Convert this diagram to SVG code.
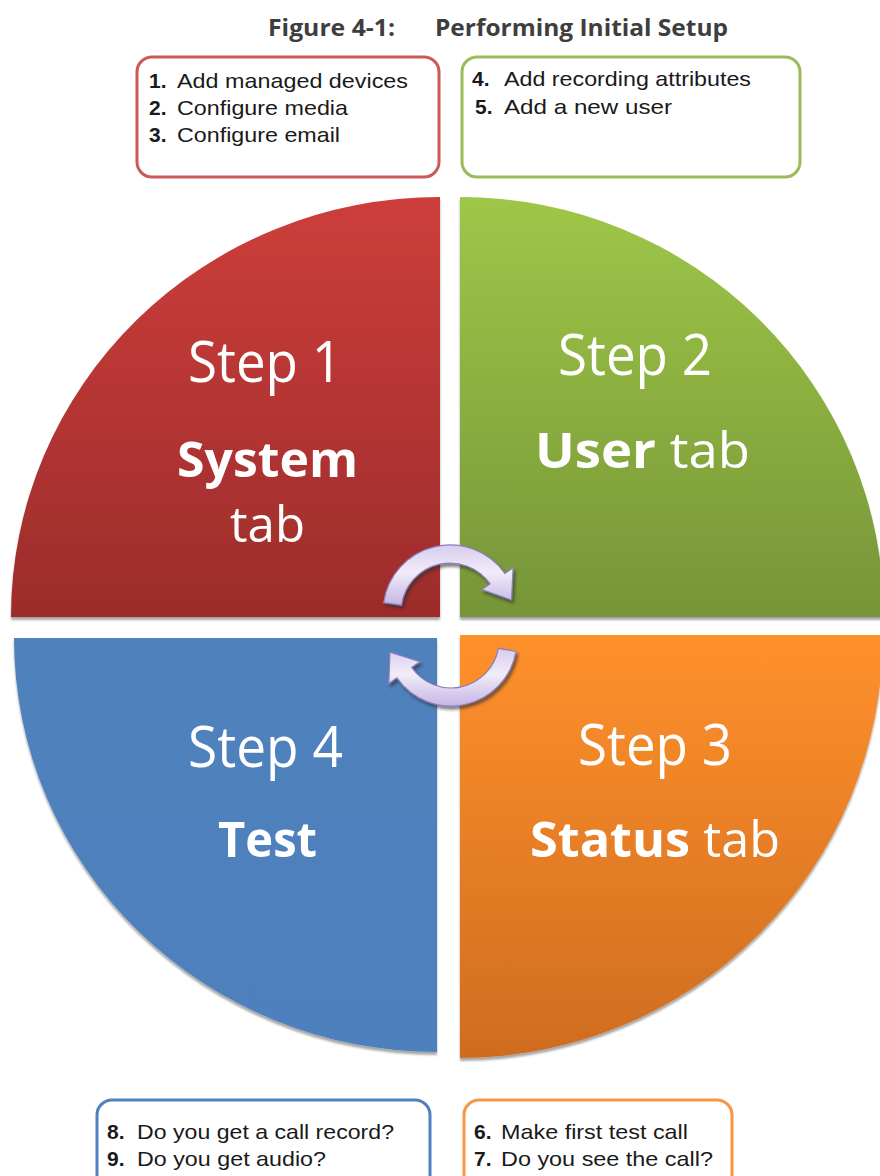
<svg xmlns="http://www.w3.org/2000/svg" width="880" height="1176" viewBox="0 0 880 1176">
<defs>
<linearGradient id="gRed" x1="0" y1="0" x2="0" y2="1"><stop offset="0" stop-color="#CD3E3B"/><stop offset="1" stop-color="#9C2C2B"/></linearGradient>
<linearGradient id="gGreen" x1="0" y1="0" x2="0" y2="1"><stop offset="0" stop-color="#9EC748"/><stop offset="1" stop-color="#769538"/></linearGradient>
<linearGradient id="gBlue" x1="0" y1="0" x2="0" y2="1"><stop offset="0" stop-color="#4F81BD"/><stop offset="1" stop-color="#4E80BD"/></linearGradient>
<linearGradient id="gOrange" x1="0" y1="0" x2="0" y2="1"><stop offset="0" stop-color="#FF912C"/><stop offset="1" stop-color="#CF6C1F"/></linearGradient>
<linearGradient id="gArrow" x1="0" y1="0" x2="0" y2="1"><stop offset="0" stop-color="#D8CCEE"/><stop offset="0.45" stop-color="#F1ECF9"/><stop offset="1" stop-color="#C6B5E4"/></linearGradient>
<filter id="shadow" x="-5%" y="-5%" width="110%" height="110%"><feDropShadow dx="0" dy="3" stdDeviation="1" flood-color="#000" flood-opacity="0.35"/></filter>
<filter id="ashadow" x="-20%" y="-20%" width="140%" height="140%"><feDropShadow dx="2" dy="3" stdDeviation="1.5" flood-color="#2a2a2a" flood-opacity="0.6"/></filter>
</defs>
<style>
.title{font-family:"Open Sans","Liberation Sans",sans-serif;font-weight:bold;font-size:23px;fill:#3E3E3E}
.box{fill:#fff;stroke-width:3}
.num{font-family:"Liberation Sans",Arial,sans-serif;font-weight:bold;font-size:21px;fill:#1a1a1a}
.item{font-family:"Liberation Sans",Arial,sans-serif;font-size:21px;fill:#1a1a1a}
.step{font-family:"Open Sans","Liberation Sans",sans-serif;font-size:56px;fill:#fff}
.lab{font-family:"Open Sans","Liberation Sans",sans-serif;font-size:49px;fill:#fff}
.b{font-weight:bold}
.arrow{fill:url(#gArrow);stroke:#8E7FBE;stroke-width:1.2;filter:url(#ashadow)}
</style>
<rect width="880" height="1176" fill="#fff"/>
<g id="title">
<text class="title" x="268" y="36" textLength="127" lengthAdjust="spacingAndGlyphs">Figure 4-1:</text>
<text class="title" x="435" y="36" textLength="293" lengthAdjust="spacingAndGlyphs">Performing Initial Setup</text>
</g>
<g id="box-system">
<rect class="box" x="137" y="57" width="302" height="120" rx="15" stroke="#CB5957"/>
<text class="num" x="149" y="88">1.</text><text class="item" x="177" y="88" textLength="231" lengthAdjust="spacingAndGlyphs">Add managed devices</text>
<text class="num" x="149" y="115">2.</text><text class="item" x="177" y="115" textLength="171" lengthAdjust="spacingAndGlyphs">Configure media</text>
<text class="num" x="149" y="142">3.</text><text class="item" x="177" y="142" textLength="163" lengthAdjust="spacingAndGlyphs">Configure email</text>
</g>
<g id="box-user">
<rect class="box" x="462" y="57" width="338" height="120" rx="15" stroke="#9BBB59"/>
<text class="num" x="472" y="86">4.</text><text class="item" x="504" y="86" textLength="247" lengthAdjust="spacingAndGlyphs">Add recording attributes</text>
<text class="num" x="475" y="114">5.</text><text class="item" x="504" y="114" textLength="168" lengthAdjust="spacingAndGlyphs">Add a new user</text>
</g>
<g id="step-1" filter="url(#shadow)">
<path d="M440,617 L11,617 A429 420 0 0 1 440,197 Z" fill="url(#gRed)"/>
</g>
<g id="step-2" filter="url(#shadow)">
<path d="M460,617 L460,197 A424 420 0 0 1 884,617 Z" fill="url(#gGreen)"/>
</g>
<g id="step-4" filter="url(#shadow)">
<path d="M437,638 L437,1052 A423 414 0 0 1 14,638 Z" fill="url(#gBlue)"/>
</g>
<g id="step-3" filter="url(#shadow)">
<path d="M460,635 L883,635 A423 423 0 0 1 460,1058 Z" fill="url(#gOrange)"/>
</g>
<g id="labels">
<text class="step" x="188" y="382" textLength="154" lengthAdjust="spacingAndGlyphs">Step 1</text>
<text class="lab b" x="177" y="477" textLength="181" lengthAdjust="spacingAndGlyphs">System</text>
<text class="lab" x="230" y="542" textLength="75" lengthAdjust="spacingAndGlyphs">tab</text>
<text class="step" x="558" y="375" textLength="154" lengthAdjust="spacingAndGlyphs">Step 2</text>
<text class="lab" x="535" y="468" textLength="215" lengthAdjust="spacingAndGlyphs"><tspan class="b">User</tspan> tab</text>
<text class="step" x="188" y="767" textLength="155" lengthAdjust="spacingAndGlyphs">Step 4</text>
<text class="lab b" x="218" y="857" textLength="99" lengthAdjust="spacingAndGlyphs">Test</text>
<text class="step" x="578" y="765" textLength="154" lengthAdjust="spacingAndGlyphs">Step 3</text>
<text class="lab" x="530" y="857" textLength="250" lengthAdjust="spacingAndGlyphs"><tspan class="b">Status</tspan> tab</text>
</g>
<g id="connectors">
<path class="arrow" d="M383.7,602.7 A67 67 0 0 1 504.9,573.5 L513.1,567.8 L511.5,600 L481.9,589.6 L490.1,583.9 A49 49 0 0 0 401.5,605.2 Z"/>
<path class="arrow" d="M516,651.5 A66 66 0 0 1 396.9,677.9 L388.8,683.6 L390,652.2 L419.9,661.8 L411.7,667.5 A48 48 0 0 0 498.3,648.3 Z"/>
</g>
<g id="box-test">
<rect class="box" x="97" y="1100" width="333" height="95" rx="15" stroke="#4F81BD"/>
<text class="num" x="107" y="1139">8.</text><text class="item" x="137" y="1139" textLength="257" lengthAdjust="spacingAndGlyphs">Do you get a call record?</text>
<text class="num" x="107" y="1166">9.</text><text class="item" x="137" y="1166" textLength="189" lengthAdjust="spacingAndGlyphs">Do you get audio?</text>
</g>
<g id="box-status">
<rect class="box" x="464" y="1100" width="268" height="95" rx="15" stroke="#F79646"/>
<text class="num" x="474" y="1139">6.</text><text class="item" x="501" y="1139" textLength="187" lengthAdjust="spacingAndGlyphs">Make first test call</text>
<text class="num" x="474" y="1166">7.</text><text class="item" x="501" y="1166" textLength="212" lengthAdjust="spacingAndGlyphs">Do you see the call?</text>
</g>
</svg>
